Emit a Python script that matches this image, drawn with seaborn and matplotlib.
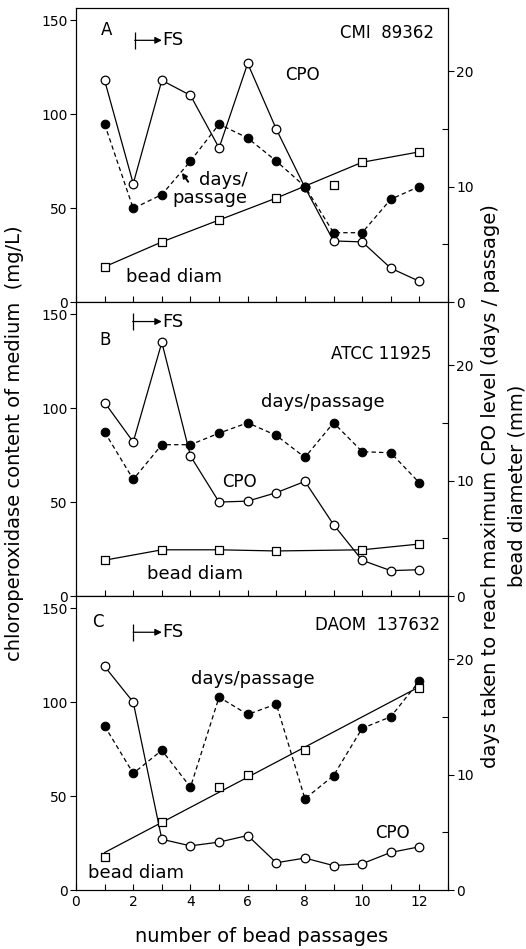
import numpy as np
import matplotlib
matplotlib.use("Agg")
import matplotlib.pyplot as plt
import pandas as pd
import seaborn as sns
from matplotlib.ticker import MultipleLocator, FixedLocator

# %% data (CPO in mg/L on left axis, days and bead diameter on right axis)
passage = list(range(1, 13))

# A  CMI 89362
cpo_a = [118, 63, 118, 110, 82, 127, 92, 61, 32.5, 32, 18, 11]
days_a = [15.4, 8.1, 9.3, 12.2, 15.4, 14.2, 12.2, 10.0, 6.0, 6.0, 8.9, 10.0]
bead_x_a = [1, 3, 5, 7, 9, 10, 12]
bead_a = [3.05, 5.2, 7.1, 9.0, 10.1, 12.1, 13.0]
bead_on_line_a = [True, True, True, True, False, True, True]

# B  ATCC 11925
cpo_b = [103, 82, 135, 74.5, 50, 50.5, 55, 61, 38, 19, 13.5, 14]
days_b = [14.2, 10.1, 13.1, 13.1, 14.1, 15.0, 13.9, 12.0, 15.0, 12.5, 12.4, 9.8]
bead_x_b = [1, 3, 5, 7, 10, 12]
bead_b = [3.1, 4.0, 4.0, 3.9, 4.0, 4.5]
bead_on_line_b = [True] * 6

# C  DAOM 137632
cpo_c = [119, 100, 27, 23.5, 25.5, 29, 14.5, 17, 13, 14, 20, 23]
days_c = [14.2, 10.1, 12.1, 8.9, 16.7, 15.2, 16.1, 7.9, 9.9, 14.0, 15.0, 18.1]
bead_x_c = [1, 3, 5, 6, 8, 12]
bead_c = [2.9, 5.9, 8.9, 10.0, 12.1, 17.5]

strains = ["CMI  89362", "ATCC 11925", "DAOM  137632"]
panel_letters = ["A", "B", "C"]

# %% layout / text placement (data coords)
panels = [
    dict(cpo=cpo_a, days=days_a, bx=bead_x_a, bd=bead_a, on=bead_on_line_a, fit=False,
         letter=(1.06, 144.6), strain=(12.5, 143), cpo_lab=(7.9, 121),
         days_lab=(6.0, 59.9, "right", "days/\npassage"), bead_lab=(3.42, 13.4), fs=(2.05, 139.3)),
    dict(cpo=cpo_b, days=days_b, bx=bead_x_b, bd=bead_b, on=bead_on_line_b, fit=False,
         letter=(1.02, 136.2), strain=(12.42, 128.8), cpo_lab=(5.7, 60.9),
         days_lab=(8.63, 103.2, "center", "days/passage"), bead_lab=(4.15, 11.5), fs=(1.98, 146.1)),
    dict(cpo=cpo_c, days=days_c, bx=bead_x_c, bd=bead_c, on=None, fit=True,
         letter=(0.78, 142.5), strain=(12.71, 141), cpo_lab=(11.06, 30.2),
         days_lab=(6.19, 112.4, "center", "days/passage"), bead_lab=(2.08, 9.2), fs=(2.0, 137.2)),
]

sns.set_style("ticks")
plt.rcParams["font.family"] = ["DejaVu Sans"]
plt.rcParams["axes.linewidth"] = 0.8
for key in ["text.color", "axes.edgecolor", "axes.labelcolor", "xtick.color", "ytick.color"]:
    plt.rcParams[key] = "black"

Y_TOP = 156.5
DAY_PER_MG = 24.4 / 150
LW = 0.9

fig = plt.figure(figsize=(5.26, 9.49), dpi=100)
left, width = 76 / 526, 372 / 526
h = 294 / 949
top0 = 1 - 8 / 949

for i, p in enumerate(panels):
    ax = fig.add_axes([left, top0 - (i + 1) * h, width, h])
    ax2 = ax.twinx()

    # CPO (open circles, left axis)
    sns.lineplot(x=passage, y=p["cpo"], ax=ax, color="black", lw=LW, marker="o",
                 markersize=6.2, markerfacecolor="white", markeredgecolor="black",
                 markeredgewidth=LW, zorder=3)

    # days/passage (filled circles, dashed, right axis)
    sns.lineplot(x=passage, y=p["days"], ax=ax2, color="black", lw=LW,
                 linestyle=(0, (3.5, 2.5)), marker="o", markersize=6.2,
                 markerfacecolor="black", markeredgecolor="black", zorder=3)

    # bead diameter (open squares, right axis)
    if p["fit"]:
        sns.regplot(x=p["bx"], y=p["bd"], ax=ax2, ci=None, scatter=False,
                    line_kws=dict(color="black", lw=LW))
    else:
        lx = [x for x, k in zip(p["bx"], p["on"]) if k]
        ly = [y for y, k in zip(p["bd"], p["on"]) if k]
        sns.lineplot(x=lx, y=ly, ax=ax2, color="black", lw=LW, zorder=3)
    sns.scatterplot(x=p["bx"], y=p["bd"], ax=ax2, marker="s", s=28, color="white",
                    edgecolor="black", linewidth=LW, zorder=4)

    ax.set_xlim(0, 13)
    ax.set_ylim(0, Y_TOP)
    ax2.set_ylim(0, Y_TOP * DAY_PER_MG)
    ax.set_xlabel("")
    ax.set_ylabel("")
    ax2.set_ylabel("")

    ax.set_yticks([0, 50, 100, 150])
    ax.tick_params(axis="y", direction="out", length=4, width=0.8, labelsize=10, pad=2)
    ax.xaxis.set_major_locator(MultipleLocator(2))
    ax.xaxis.set_minor_locator(MultipleLocator(1))
    ax.tick_params(axis="x", which="both", direction="in", length=4, width=0.8,
                   labelsize=10, top=False)
    if i < 2:
        ax.tick_params(axis="x", labelbottom=False)

    ax2.set_yticks([0, 10, 20])
    ax2.yaxis.set_minor_locator(FixedLocator([5, 15]))
    ax2.tick_params(axis="y", which="major", direction="out", length=4, width=0.8,
                    labelsize=10, pad=2)
    ax2.tick_params(axis="y", which="minor", direction="in", length=4, width=0.8)
    for s in ax.spines.values():
        s.set_visible(True)
    for s in ax2.spines.values():
        s.set_visible(True)

    # labels inside panel
    ax.text(*p["letter"], panel_letters[i], ha="center", va="center", fontsize=12)
    ax.text(*p["strain"], strains[i], ha="right", va="center", fontsize=12)
    ax.text(*p["cpo_lab"], "CPO", ha="center", va="center", fontsize=12)
    dx, dy, dha, dtxt = p["days_lab"]
    ax.text(dx, dy, dtxt, ha=dha, va="center", multialignment="right",
            linespacing=1.0, fontsize=13)
    ax.text(*p["bead_lab"], "bead diam", ha="center", va="center", fontsize=13)

    # FS marker
    fx, fy = p["fs"]
    ax.annotate("", xy=(3.0, fy), xytext=(fx, fy),
                arrowprops=dict(arrowstyle="-|>", color="black", lw=LW,
                                mutation_scale=10, shrinkA=0, shrinkB=0))
    ax.vlines(fx, fy - 4.5, fy + 4.5, color="black", lw=LW)
    ax.text(3.02, fy, "FS", ha="left", va="center", fontsize=13)

    if i == 0:
        ax.annotate("", xy=(3.70, 68.8), xytext=(3.92, 64.0),
                    arrowprops=dict(arrowstyle="-|>", color="black", lw=1.4,
                                    mutation_scale=7, shrinkA=0, shrinkB=0))

fig.text(15 / 526, 1 - 443 / 949, "chloroperoxidase content of medium  (mg/L)",
         rotation=90, ha="center", va="center", fontsize=14)
fig.text(490 / 526, 1 - 486 / 949,
         "days taken to reach maximum CPO level (days / passage)",
         rotation=90, ha="center", va="center", fontsize=14)
fig.text(517 / 526, 1 - 486 / 949, "bead diameter (mm)",
         rotation=90, ha="center", va="center", fontsize=14)
fig.text(262 / 526, 1 - 937 / 949, "number of bead passages",
         ha="center", va="center", fontsize=14)

fig.savefig("out.png", dpi=100)
